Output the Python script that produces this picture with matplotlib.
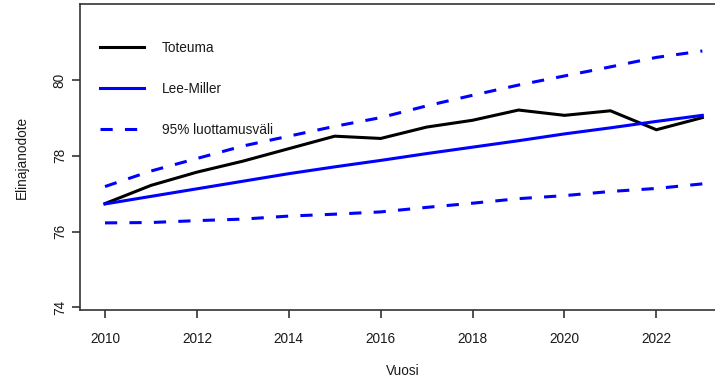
import matplotlib
matplotlib.use("Agg")
import matplotlib.pyplot as plt

# Life expectancy: observed vs. Lee-Miller forecast with 95% interval
years = [2010, 2011, 2012, 2013, 2014, 2015, 2016, 2017, 2018, 2019, 2020, 2021, 2022, 2023]
toteuma = [76.74, 77.22, 77.57, 77.86, 78.19, 78.52, 78.46, 78.76, 78.94, 79.21, 79.07, 79.19, 78.69, 79.01]
lee_miller = [76.73, 76.93, 77.13, 77.33, 77.53, 77.71, 77.88, 78.06, 78.23, 78.40, 78.58, 78.74, 78.91, 79.07]
ci_upper = [77.19, 77.60, 77.93, 78.26, 78.52, 78.78, 79.01, 79.32, 79.60, 79.87, 80.11, 80.35, 80.60, 80.77]
ci_lower = [76.23, 76.24, 76.29, 76.33, 76.41, 76.46, 76.52, 76.64, 76.75, 76.87, 76.95, 77.06, 77.14, 77.26]

x_ticks = [2010, 2012, 2014, 2016, 2018, 2020, 2022]
y_ticks = [74, 76, 78, 80]

plt.rcParams['font.family'] = ['Liberation Sans', 'DejaVu Sans']
text_color = '#1a1a1a'
frame_color = '#333333'
fs = 9.8

W, H = 715, 380
fig = plt.figure(figsize=(W / 100, H / 100), dpi=100)
# the plot box runs past the right edge of the canvas
left_px, right_px, top_px, bottom_px = 80, 726, 4, 310
ax = fig.add_axes([left_px / W, 1 - bottom_px / H,
                   (right_px - left_px) / W, (bottom_px - top_px) / H])

lw = 2.2
ax.plot(years, toteuma, color='black', lw=lw, label='Toteuma', solid_joinstyle='miter')
ax.plot(years, lee_miller, color='#0000ff', lw=lw, label='Lee-Miller')
ax.plot(years, ci_upper, color='#0000ff', lw=lw, dashes=(4, 4), label='95% luottamusväli')
ax.plot(years, ci_lower, color='#0000ff', lw=lw, dashes=(4, 4))

ax.set_xlim(2009.456, 2023.515)
ax.set_ylim(73.93, 82.01)
ax.set_xticks(x_ticks)
ax.set_yticks(y_ticks)
ax.set_yticklabels([str(v) for v in y_ticks], rotation=90, va='center')

for side in ['left', 'bottom', 'top', 'right']:
    ax.spines[side].set_color(frame_color)
    ax.spines[side].set_linewidth(1.2)

ax.tick_params(axis='both', direction='out', length=5.5, width=1.2, color=frame_color,
               labelsize=fs, labelcolor=text_color)
ax.tick_params(axis='x', pad=10)
ax.tick_params(axis='y', pad=4)

ax.set_xlabel('Vuosi', fontsize=fs, color=text_color, labelpad=13.5)
ax.set_ylabel('Elinajanodote', fontsize=fs, color=text_color, labelpad=17)

leg = ax.legend(loc='upper left', bbox_to_anchor=(100 / W, 1 - 41 / H),
                bbox_transform=fig.transFigure, frameon=False, fontsize=fs,
                handlelength=3.25, handletextpad=1.3, labelspacing=1.98,
                borderpad=0, borderaxespad=0)
for t in leg.get_texts():
    t.set_color(text_color)

fig.savefig('out.png', dpi=100)
